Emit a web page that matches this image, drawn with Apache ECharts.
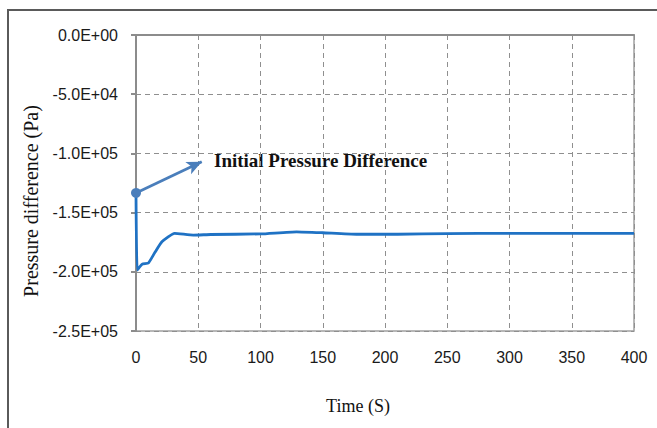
<!DOCTYPE html>
<html>
<head>
<meta charset="utf-8">
<script src="https://cdn.jsdelivr.net/npm/echarts@6/dist/echarts.min.js"></script>
<style>
html,body{margin:0;padding:0;background:#fff;}
#chart{width:657px;height:428px;}
</style>
</head>
<body>
<div id="chart"></div>
<script>
var timeS = [0, 1, 5, 10, 15, 21, 31, 46, 60, 100, 129, 150, 177, 210, 250, 300, 350, 400];
var pressureDiff = [-133400, -198500, -193500, -192500, -184000, -174500, -167500, -169000, -168500, -168000, -166200, -167000, -168300, -168300, -167700, -167600, -167600, -167600];
var yTicks = ['0.0E+00', '-5.0E+04', '-1.0E+05', '-1.5E+05', '-2.0E+05', '-2.5E+05'];
var xTicks = [0, 50, 100, 150, 200, 250, 300, 350, 400];
var arrowStart = [0, -133400];
var arrowEnd = [52.8, -107000];
var annotationText = 'Initial Pressure Difference';
var xTitle = 'Time (S)';
var yTitle = 'Pressure difference (Pa)';

var chart = echarts.init(document.getElementById('chart'), null, {renderer: 'svg'});
var tickLabelMap = {};
yTicks.forEach(function (t, i) { tickLabelMap[String(-50000 * i)] = t; });

chart.setOption({
  animation: false,
  backgroundColor: '#fff',
  grid: {left: 136, top: 35, right: 23, bottom: 97, show: true, borderColor: '#a0a0a0', borderWidth: 1.5, backgroundColor: 'transparent'},
  xAxis: {
    type: 'value', min: xTicks[0], max: xTicks[xTicks.length - 1], interval: 50,
    axisLine: {show: true, lineStyle: {color: '#8c8c8c', width: 2}},
    axisTick: {show: false},
    axisLabel: {color: '#1a1a1a', fontSize: 16, fontFamily: 'Liberation Sans', margin: 18},
    splitLine: {show: true, lineStyle: {color: '#8f8f8f', type: [5, 4], width: 1}}
  },
  yAxis: {
    type: 'value', min: -250000, max: 0, interval: 50000,
    axisLine: {show: true, lineStyle: {color: '#8c8c8c', width: 2}},
    axisTick: {show: true, inside: false, length: 5, lineStyle: {color: '#8c8c8c', width: 2}},
    axisLabel: {color: '#1a1a1a', fontSize: 16, fontFamily: 'Liberation Sans', margin: 18,
      formatter: function (v) { return tickLabelMap[String(v)] || ''; }},
    splitLine: {show: true, lineStyle: {color: '#8f8f8f', type: [5, 4], width: 1}}
  },
  series: [{
    type: 'line',
    data: timeS.map(function (t, i) { return [t, pressureDiff[i]]; }),
    showSymbol: false,
    symbol: 'none',
    smooth: 0.15,
    lineStyle: {color: '#1f72c4', width: 2.8},
    markLine: {
      silent: true,
      symbol: ['circle', 'arrow'],
      symbolSize: [10, 15],
      label: {show: false},
      lineStyle: {color: '#4a7ebb', width: 2.8, type: 'solid'},
      itemStyle: {color: '#4a7ebb'},
      data: [[{coord: arrowStart}, {coord: arrowEnd}]]
    }
  }],
  graphic: [
    {type: 'rect', shape: {x: 8, y: 10, width: 700, height: 500}, style: {fill: 'none', stroke: '#5a5a5a', lineWidth: 2}, silent: true, z: 0},
    {type: 'text', left: 214, top: 151, style: {text: annotationText, font: 'bold 19px "Liberation Serif"', fill: '#111'}},
    {type: 'text', x: 358, y: 406, style: {text: xTitle, font: '18px "Liberation Serif"', fill: '#111', align: 'center', verticalAlign: 'middle'}},
    {type: 'text', x: 31, y: 201, rotation: Math.PI / 2, style: {text: yTitle, font: '20px "Liberation Serif"', fill: '#111', align: 'center', verticalAlign: 'middle'}}
  ]
});
</script>
</body>
</html>
